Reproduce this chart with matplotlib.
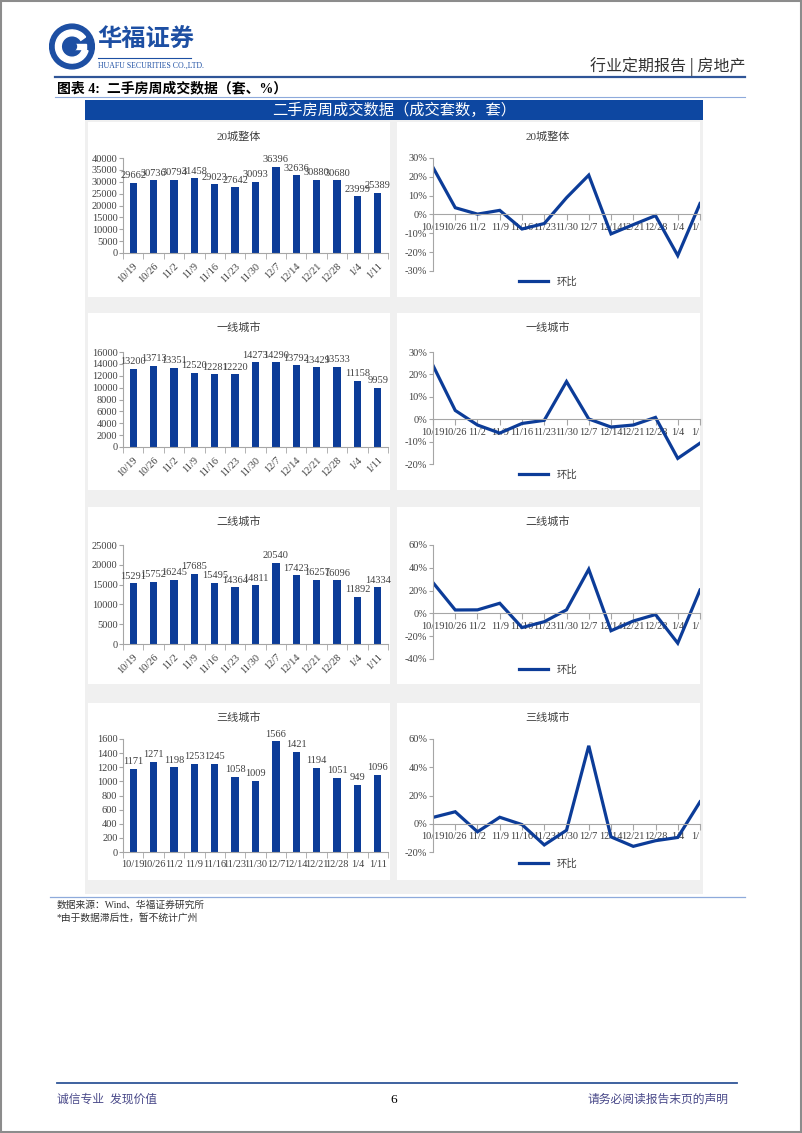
import numpy as np
import matplotlib
matplotlib.use("Agg")
import matplotlib.pyplot as plt
from matplotlib.patches import Rectangle, Circle, Wedge
from matplotlib.transforms import Bbox

plt.rcParams['font.family'] = ['Liberation Serif', 'Noto Sans CJK SC', 'DejaVu Sans']

W, H = 802, 1133

weeks = ["10/19", "10/26", "11/2", "11/9", "11/16", "11/23", "11/30",
         "12/7", "12/14", "12/21", "12/28", "1/4", "1/11"]

titles = ["20城整体", "一线城市", "二线城市", "三线城市"]

# weekly deals (sets)
vol_all = [29662, 30736, 30794, 31458, 29023, 27642, 30093, 36396, 32636, 30880, 30680, 23999, 25389]
vol_t1 = [13200, 13713, 13351, 12520, 12281, 12220, 14273, 14290, 13792, 13429, 13533, 11158, 9959]
vol_t2 = [15291, 15752, 16245, 17685, 15495, 14364, 14811, 20540, 17423, 16257, 16096, 11892, 14334]
vol_t3 = [1171, 1271, 1198, 1253, 1245, 1058, 1009, 1566, 1421, 1194, 1051, 949, 1096]

# week-on-week change (%)
wow_all = [25.0, 3.6, 0.2, 2.2, -7.7, -4.8, 8.9, 20.9, -10.3, -5.4, -0.6, -21.8, 5.8]
wow_t1 = [24.0, 3.9, -2.6, -6.2, -1.9, -0.5, 16.8, 0.1, -3.5, -2.6, 0.8, -17.5, -10.7]
wow_t2 = [27.0, 3.0, 3.1, 8.9, -12.4, -7.3, 3.1, 38.7, -15.2, -6.7, -1.0, -26.1, 20.5]
wow_t3 = [4.5, 8.5, -5.7, 4.6, -0.6, -15.0, -4.6, 55.2, -9.3, -16.0, -12.0, -9.7, 15.5]

vols = [vol_all, vol_t1, vol_t2, vol_t3]
wows = [wow_all, wow_t1, wow_t2, wow_t3]

BLUE = "#0c3c98"
TXT = "#404040"
AX = "#a6a6a6"

fig = plt.figure(figsize=(W / 100, H / 100), dpi=100)


def rect(x0, y0, x1, y1):
    return [x0 / W, 1 - y1 / H, (x1 - x0) / W, (y1 - y0) / H]


def box(x0, y0, x1, y1, z=-10, **kw):
    r = Rectangle((x0 / W, 1 - y1 / H), (x1 - x0) / W, (y1 - y0) / H,
                  transform=fig.transFigure, zorder=z, **kw)
    fig.add_artist(r)
    return r


def hline(y, x0, x1, color, lw):
    fig.add_artist(plt.Line2D([x0 / W, x1 / W], [1 - y / H, 1 - y / H],
                              transform=fig.transFigure, color=color, lw=lw))


def ftext(x, y, s, **kw):
    fig.text(x / W, 1 - y / H, s, **kw)


# page frame
box(1, 1, W - 1, H - 1, z=5, fill=False, edgecolor="#8c8c8c", lw=1.5)

# logo
lax = fig.add_axes(rect(48, 23, 96, 70))
lax.set_xlim(-1.05, 1.05)
lax.set_ylim(-1.05, 1.05)
lax.set_aspect("equal")
lax.axis("off")
lax.add_patch(Circle((0, 0), 1.0, color="#1d4fa3"))
lax.add_patch(Wedge((0, 0), 0.74, 35, 345, width=0.26, color="white"))
lax.add_patch(Rectangle((0.0, -0.12), 0.62, 0.24, color="white"))
lax.add_patch(Circle((0, 0), 0.2, color="#1d4fa3"))

ftext(97, 40, "华福证券", fontsize=17.5, color="#1d4fa3", weight="bold",
      va="center", family=["Noto Sans CJK SC"])
hline(58, 98, 191, "#1d4fa3", 0.8)
ftext(98, 66, "HUAFU SECURITIES CO.,LTD.", fontsize=5.6, color="#1d4fa3",
      va="center", family=["Liberation Serif"])
ftext(745, 67, "行业定期报告 | 房地产", fontsize=11.5, color="#333333",
      ha="right", va="center", family=["Noto Sans CJK SC"])
hline(77, 55, 745, "#2f5597", 1.6)
ftext(57, 88, "图表 4:  二手房周成交数据（套、%）", fontsize=10, color="black",
      weight="bold", va="center")
hline(96.5, 55, 745, "#8eaadb", 0.8)

# banner
box(85, 100, 703, 120, z=-5, facecolor="#0d47a1", edgecolor="none")
ftext(394, 110, "二手房周成交数据（成交套数，套）", fontsize=11, color="white",
      ha="center", va="center")

# grey background and white panels
box(85, 120, 703, 894, facecolor="#f0f0f0", edgecolor="none")
rows = [(122, 297), (313, 490), (507, 684), (703, 880)]
for y0, y1 in rows:
    box(88, y0, 390, y1, z=-9, facecolor="white", edgecolor="none")
    box(397, y0, 700, y1, z=-9, facecolor="white", edgecolor="none")

bar_axes = [(158, 253, 40000, 5000), (352, 447, 16000, 2000),
            (545, 644, 25000, 5000), (739, 852, 1600, 200)]
line_axes = [(158, 271, -30, 30, 10), (352, 464, -20, 30, 10),
             (545, 659, -40, 60, 20), (739, 852, -20, 60, 20)]
legend_y = [282, 475, 670, 864]

x = np.arange(len(weeks))

for i in range(4):
    y0, y1 = rows[i]
    # bar chart
    ty, by, ymax, step = bar_axes[i]
    ax = fig.add_axes(rect(123, ty, 388, by))
    ax.bar(x, vols[i], width=0.36, color=BLUE)
    for xi, v in zip(x, vols[i]):
        ax.text(xi, v + ymax * 0.025, str(v), ha="center", va="bottom",
                fontsize=7.5, color=TXT)
    ax.set_xlim(-0.5, len(weeks) - 0.5)
    ax.set_ylim(0, ymax)
    ax.set_yticks(np.arange(0, ymax + 1, step))
    ax.set_xticks(x)
    ax.set_xticks(np.arange(-0.5, len(weeks), 1), minor=True)
    if i < 3:
        ax.set_xticklabels(weeks, rotation=45, ha="right", rotation_mode="anchor")
    else:
        ax.set_xticklabels(weeks)
    ax.tick_params(axis="x", which="major", length=0, labelsize=7.5,
                   labelcolor=TXT, pad=6)
    ax.tick_params(axis="x", which="minor", length=4, color=AX)
    ax.tick_params(axis="y", length=3, color=AX, labelsize=7.5,
                   labelcolor=TXT, pad=1)
    for s in ["top", "right"]:
        ax.spines[s].set_visible(False)
    for s in ["left", "bottom"]:
        ax.spines[s].set_color(AX)
        ax.spines[s].set_linewidth(0.8)
    ax.set_facecolor("none")
    ftext(239, y0 + 15, titles[i], fontsize=8, color=TXT, ha="center", va="center")

    # line chart
    ty, by, lo, hi, st = line_axes[i]
    lx = fig.add_axes(rect(433, ty, 700, by))
    lx.plot(x, wows[i], color=BLUE, lw=2.3, label="环比", solid_joinstyle="miter")
    lx.set_xlim(0, len(weeks) - 1)
    lx.set_ylim(lo, hi)
    lx.set_yticks(np.arange(lo, hi + 1, st))
    lx.set_yticklabels([f"{v}%" for v in np.arange(lo, hi + 1, st)])
    lx.spines["bottom"].set_position(("data", 0))
    lx.set_xticks(x)
    lx.set_xticklabels(weeks)
    lx.tick_params(axis="x", length=4, color=AX, labelsize=7.5,
                   labelcolor=TXT, pad=2)
    lx.tick_params(axis="y", length=3, color=AX, labelsize=7.5,
                   labelcolor=TXT, pad=1)
    for s in ["top", "right"]:
        lx.spines[s].set_visible(False)
    for s in ["left", "bottom"]:
        lx.spines[s].set_color(AX)
        lx.spines[s].set_linewidth(0.8)
    lx.set_facecolor("none")
    clip = Bbox.from_extents(397, H - y1, 700, H - y0)
    for lbl in lx.get_xticklabels():
        lbl.set_clip_box(clip)
        lbl.set_clip_on(True)
    lx.legend(loc="center", bbox_to_anchor=(548 / W, 1 - legend_y[i] / H),
              bbox_transform=fig.transFigure, frameon=False, fontsize=7.5,
              handlelength=2.8, labelcolor=TXT)
    ftext(548, y0 + 15, titles[i], fontsize=8, color=TXT, ha="center", va="center")

# sources
hline(897, 50, 745, "#8eaadb", 0.9)
ftext(57, 905, "数据来源：Wind、华福证券研究所", fontsize=7, color="#333333", va="center")
ftext(57, 918, "*由于数据滞后性，暂不统计广州", fontsize=7, color="#333333", va="center")

# footer
hline(1083, 57, 737, "#2f5597", 1.3)
ftext(57, 1100, "诚信专业  发现价值", fontsize=8.5, color="#4a4a8a", va="center")
ftext(394, 1100, "6", fontsize=9.5, color="black", ha="center", va="center")
ftext(728, 1100, "请务必阅读报告末页的声明", fontsize=8.5, color="#4a4a8a",
      ha="right", va="center")

fig.savefig("out.png", dpi=100, facecolor="white")
